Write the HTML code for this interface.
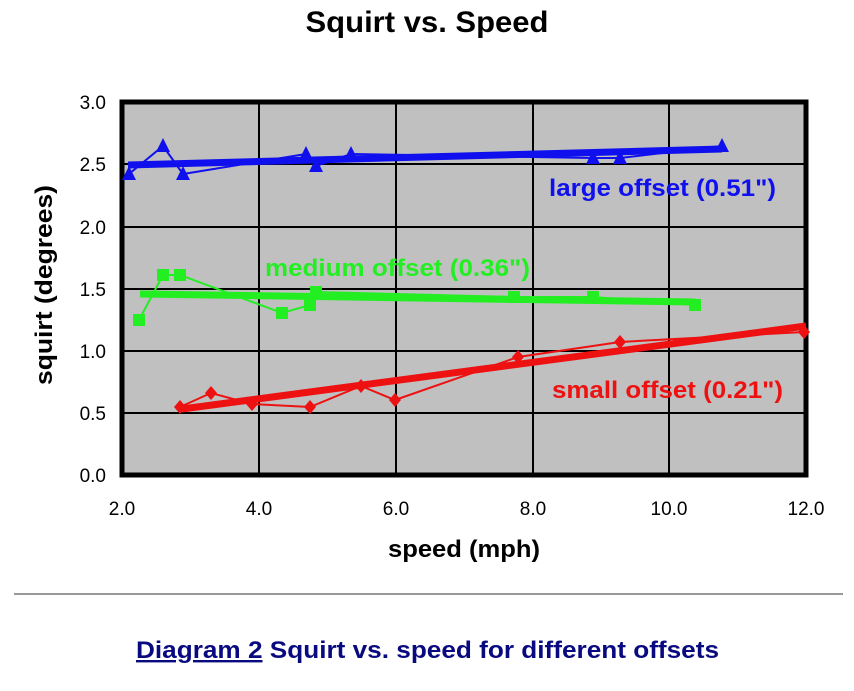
<!DOCTYPE html>
<html><head><meta charset="utf-8"><style>
body{margin:0;background:#fff;width:854px;height:686px;overflow:hidden;font-family:"Liberation Sans",Arial,sans-serif}
</style></head><body>
<svg width="854" height="686" viewBox="0 0 854 686" xmlns="http://www.w3.org/2000/svg" font-family="Liberation Sans, Arial, sans-serif" font-weight="bold">
<text x="427" y="32" text-anchor="middle" font-size="30" textLength="243" lengthAdjust="spacingAndGlyphs">Squirt vs. Speed</text>
<rect x="122" y="102" width="684" height="373" fill="#c0c0c0"/>
<g stroke="#000" stroke-width="2">
<line x1="259" y1="102" x2="259" y2="475"/><line x1="396" y1="102" x2="396" y2="475"/>
<line x1="533" y1="102" x2="533" y2="475"/><line x1="669" y1="102" x2="669" y2="475"/>
<line x1="122" y1="164" x2="806" y2="164"/><line x1="122" y1="227" x2="806" y2="227"/>
<line x1="122" y1="289" x2="806" y2="289"/><line x1="122" y1="351" x2="806" y2="351"/>
<line x1="122" y1="413" x2="806" y2="413"/>
</g>
<rect x="122" y="102" width="684" height="373" fill="none" stroke="#000" stroke-width="5"/>
<g stroke="#1010ee" fill="#1010ee">
<polyline fill="none" stroke-width="2" points="129,174 163,146 183,174 306,154 316,166 351,154 593,158 620,158 722,146"/>
<line x1="128" y1="165" x2="722" y2="149" stroke-width="7"/>
<g stroke="none">
<polygon points="129,166 122,180 136,180"/><polygon points="163,138 156,152 170,152"/><polygon points="183,166 176,180 190,180"/>
<polygon points="306,146 299,160 313,160"/><polygon points="316,158 309,172 323,172"/><polygon points="351,146 344,160 358,160"/>
<polygon points="593,150 586,164 600,164"/><polygon points="620,150 613,164 627,164"/><polygon points="722,138 715,152 729,152"/>
</g></g>
<g stroke="#22ee22" fill="#22ee22">
<polyline fill="none" stroke-width="2" points="139,320 163,275 180,275 282,313 310,305 316,292 514,297 593,297 695,305"/>
<line x1="140" y1="294" x2="695" y2="302" stroke-width="7"/>
<g stroke="none">
<rect x="133" y="314" width="12" height="12"/><rect x="157" y="269" width="12" height="12"/><rect x="174" y="269" width="12" height="12"/>
<rect x="276" y="307" width="12" height="12"/><rect x="304" y="299" width="12" height="12"/><rect x="310" y="286" width="12" height="12"/>
<rect x="508" y="291" width="12" height="12"/><rect x="587" y="291" width="12" height="12"/><rect x="689" y="299" width="12" height="12"/>
</g></g>
<g stroke="#ee1111" fill="#ee1111">
<polyline fill="none" stroke-width="2" points="180,407 211,393 252,404 310,407 361,386 395,400 518,357 620,342 804,332"/>
<line x1="182" y1="409" x2="806" y2="326" stroke-width="7"/>
<g stroke="none">
<polygon points="180,400 186,407 180,414 174,407"/><polygon points="211,386 217,393 211,400 205,393"/><polygon points="252,397 258,404 252,411 246,404"/>
<polygon points="310,400 316,407 310,414 304,407"/><polygon points="361,379 367,386 361,393 355,386"/><polygon points="395,393 401,400 395,407 389,400"/>
<polygon points="518,350 524,357 518,364 512,357"/><polygon points="620,335 626,342 620,349 614,342"/><polygon points="804,325 810,332 804,339 798,332"/>
</g></g>
<text x="549" y="196" font-size="24" fill="#1010ee" textLength="227" lengthAdjust="spacingAndGlyphs">large offset (0.51")</text>
<text x="265" y="276" font-size="24" fill="#22ee22" textLength="265" lengthAdjust="spacingAndGlyphs">medium offset (0.36")</text>
<text x="552" y="398" font-size="24" fill="#ee1111" textLength="231" lengthAdjust="spacingAndGlyphs">small offset (0.21")</text>
<g font-size="19" font-weight="normal" text-anchor="end">
<text x="106" y="109">3.0</text><text x="106" y="171">2.5</text><text x="106" y="234">2.0</text>
<text x="106" y="296">1.5</text><text x="106" y="358">1.0</text><text x="106" y="420">0.5</text><text x="106" y="482">0.0</text>
</g>
<g font-size="19" font-weight="normal" text-anchor="middle">
<text x="122" y="515">2.0</text><text x="259" y="515">4.0</text><text x="396" y="515">6.0</text>
<text x="533" y="515">8.0</text><text x="669" y="515">10.0</text><text x="806" y="515">12.0</text>
</g>
<text x="464" y="557" text-anchor="middle" font-size="24" textLength="152" lengthAdjust="spacingAndGlyphs">speed (mph)</text>
<text transform="translate(52,285) rotate(-90)" text-anchor="middle" font-size="24" textLength="200" lengthAdjust="spacingAndGlyphs">squirt (degrees)</text>
<line x1="14" y1="594" x2="843" y2="594" stroke="#999" stroke-width="2"/>
<text x="136" y="658" font-size="24" fill="#0a0a80" textLength="583" lengthAdjust="spacingAndGlyphs"><tspan text-decoration="underline">Diagram 2</tspan>  Squirt vs. speed for different offsets</text>
</svg>
</body></html>
